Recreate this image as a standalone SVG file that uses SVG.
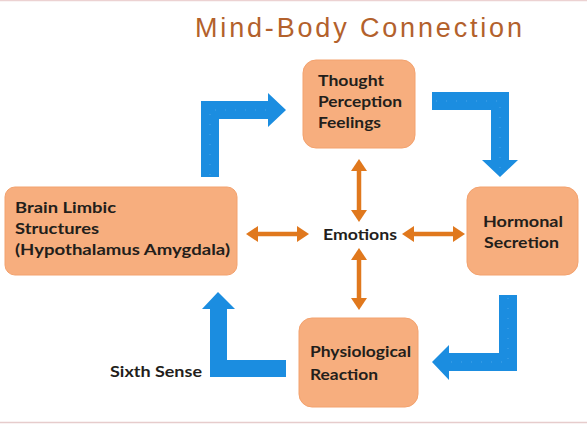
<svg xmlns="http://www.w3.org/2000/svg" width="587" height="424" viewBox="0 0 587 424">
<style>
.box{fill:#f7ae7e;stroke:#f3a26e;stroke-width:1}
.lbl{font-family:Lato,"Open Sans","Liberation Sans",sans-serif;font-weight:bold;font-size:15px;fill:#231e1b}
.title{font-family:"Liberation Sans",Arial,sans-serif;font-size:27px;fill:#b3612c}
.blue{fill:#1b8de0}
.dots{fill:none;stroke:#5fb0ec;stroke-width:1;stroke-dasharray:1 9;opacity:0.7}
.orange{stroke:#e0781d;stroke-width:4.5;fill:none;marker-start:url(#oh);marker-end:url(#oh)}
</style>
<defs>
<marker id="oh" viewBox="0 0 12 16" refX="6" refY="8" markerWidth="12" markerHeight="16" markerUnits="userSpaceOnUse" orient="auto-start-reverse">
<path d="M0,0 L12,8 L0,16 z" fill="#e0781d"/>
</marker>
</defs>
<rect width="587" height="424" fill="#ffffff"/>
<line x1="0" y1="0.5" x2="587" y2="0.5" stroke="#ecd2d2" stroke-width="1.5"/>
<line x1="0" y1="422.5" x2="587" y2="422.5" stroke="#e6cccc" stroke-width="1.5"/>
<text class="title" x="195" y="37" textLength="327" lengthAdjust="spacing">Mind-Body Connection</text>

<g id="connectors">
<polygon class="blue" points="201,177 201,101 268,101 268,93 286,110 268,127 268,119 219,119 219,177"/>
<polyline class="dots" points="210,175 210,110 266,110"/>
<polygon class="blue" points="432,92 509,92 509,160 518,160 500,177 482,160 491,160 491,110 432,110"/>
<polyline class="dots" points="436,101 500,101 500,170"/>
<polygon class="blue" points="499,295 517,295 517,371 449,371 449,380 432,362 449,345 449,353 499,353"/>
<polyline class="dots" points="508,298 508,362 445,362"/>
<polygon class="blue" points="210,377 210,309 202,309 218,292 235,309 227,309 227,360 286,360 286,377"/>
<line class="orange" x1="252" y1="234" x2="303" y2="234"/>
<line class="orange" x1="408" y1="234" x2="459" y2="234"/>
<line class="orange" x1="359" y1="165" x2="359" y2="216"/>
<line class="orange" x1="359" y1="254" x2="359" y2="304"/>
</g>

<g id="thought">
<rect class="box" x="303" y="60" width="112" height="88" rx="13"/>
<text class="lbl" x="318" y="86" textLength="66" lengthAdjust="spacingAndGlyphs">Thought</text>
<text class="lbl" x="318" y="107" textLength="84" lengthAdjust="spacingAndGlyphs">Perception</text>
<text class="lbl" x="318" y="128" textLength="63" lengthAdjust="spacingAndGlyphs">Feelings</text>
</g>

<g id="brain">
<rect class="box" x="5" y="187" width="232" height="88" rx="10"/>
<text class="lbl" x="15" y="213" textLength="101" lengthAdjust="spacingAndGlyphs">Brain Limbic</text>
<text class="lbl" x="15" y="234" textLength="84" lengthAdjust="spacingAndGlyphs">Structures</text>
<text class="lbl" x="15" y="255" textLength="215" lengthAdjust="spacingAndGlyphs">(Hypothalamus Amygdala)</text>
</g>

<g id="hormonal">
<rect class="box" x="467" y="187" width="111" height="88" rx="13"/>
<text class="lbl" x="483" y="227" textLength="80" lengthAdjust="spacingAndGlyphs">Hormonal</text>
<text class="lbl" x="484" y="248" textLength="75" lengthAdjust="spacingAndGlyphs">Secretion</text>
</g>

<g id="physiological">
<rect class="box" x="299" y="318" width="119" height="89" rx="13"/>
<text class="lbl" x="310" y="357" textLength="101" lengthAdjust="spacingAndGlyphs">Physiological</text>
<text class="lbl" x="310" y="380" textLength="68" lengthAdjust="spacingAndGlyphs">Reaction</text>
</g>

<g id="emotions">
<text class="lbl" x="323" y="240" textLength="74" lengthAdjust="spacingAndGlyphs">Emotions</text>
</g>

<g id="sixth-sense">
<text class="lbl" x="110" y="377" textLength="92" lengthAdjust="spacingAndGlyphs">Sixth Sense</text>
</g>
</svg>
